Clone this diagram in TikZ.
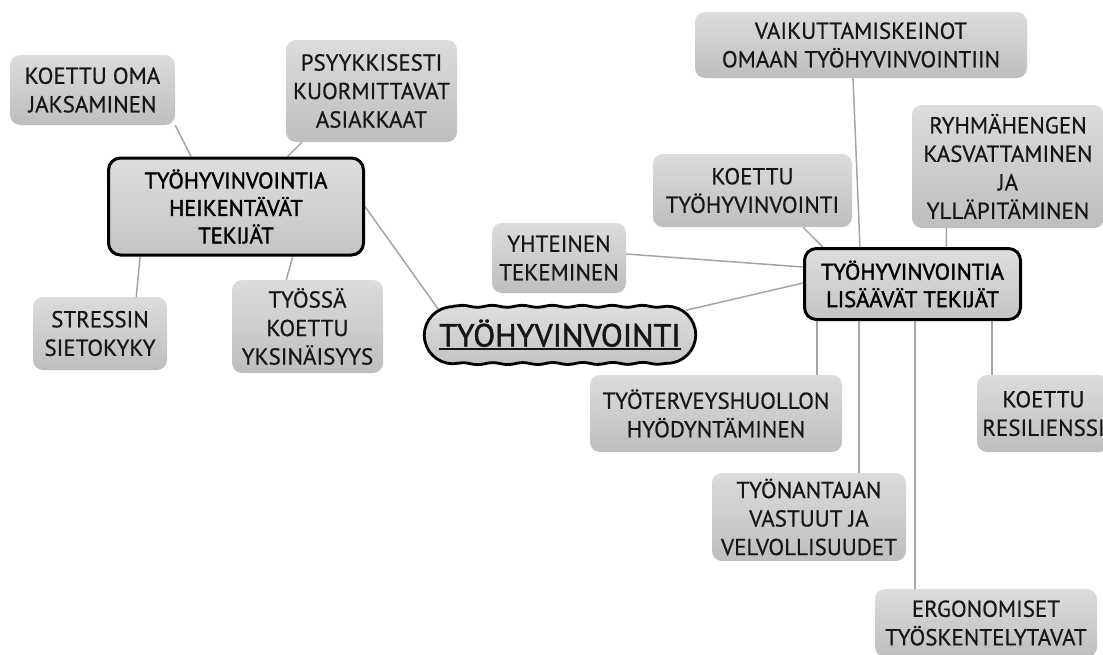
\documentclass[tikz,border=0pt]{standalone}
\usepackage{fontspec}
\setmainfont{PT Sans}[FakeBold=0.5]
\newfontfamily\hubfont{PT Sans}[FakeBold=1.6]
\usetikzlibrary{calc,backgrounds,decorations.pathmorphing}

\definecolor{boxtop}{RGB}{220,220,220}
\definecolor{boxbot}{RGB}{190,190,190}
\definecolor{hubtop}{RGB}{222,222,222}
\definecolor{hubbot}{RGB}{196,196,196}
\definecolor{linkgray}{RGB}{165,165,165}
\definecolor{inkdark}{RGB}{22,22,22}

\begin{document}
\begin{tikzpicture}[x=1pt,y=-1pt,
  leaf/.style={rounded corners=10pt, top color=boxtop, bottom color=boxbot,
    draw=none, align=center, text=inkdark, inner sep=0pt,
    font=\fontsize{23}{28.5}\selectfont},
  hub/.style={rounded corners=12pt, top color=hubtop, bottom color=hubbot,
    draw=black, line width=3pt, align=center, text=black, inner sep=0pt,
    font=\hubfont\fontsize{22.5}{27.5}\selectfont},
  link/.style={draw=linkgray, line width=1.5pt},
  wobble/.style={decoration={snake, amplitude=1pt, segment length=30pt}}]

\useasboundingbox (0,0) rectangle (1103,654);
\clip (0,0) rectangle (1103,654);

% ---- left cluster: factors that weaken well-being
\node[hub, minimum width=255pt, minimum height=97pt] (heik) at (236,206.5)
  {TYÖHYVINVOINTIA\\HEIKENTÄVÄT\\TEKIJÄT};
\node[leaf, minimum width=165pt, minimum height=70pt] (koma) at (92.5,90)
  {KOETTU OMA\\JAKSAMINEN};
\node[leaf, minimum width=171pt, minimum height=102pt] (psy) at (371.5,91)
  {PSYYKKISESTI\\KUORMITTAVAT\\ASIAKKAAT};
\node[leaf, minimum width=134pt, minimum height=73pt] (stress) at (100,333.5)
  {STRESSIN\\SIETOKYKY};
\node[leaf, minimum width=151pt, minimum height=93pt] (yks) at (307.5,326.5)
  {TYÖSSÄ\\KOETTU\\YKSINÄISYYS};

% ---- central topic
\node[top color=hubtop, bottom color=hubbot, rounded corners=28pt,
  minimum width=271pt, minimum height=57pt, inner sep=0pt, text=inkdark,
  font=\hubfont\fontsize{32}{36}\selectfont] (tyo) at (560,335)
  {\setbox0\hbox{TYÖHYVINVOINTI}\rlap{\rule[-4pt]{\wd0}{2pt}}\box0};
\draw[draw=black, line width=2.8pt, line join=round, wobble]
  ($(tyo.north west)+(28.5,0)$)
  decorate { -- ($(tyo.north east)+(-28.5,0)$) }
  arc[start angle=-90, end angle=90, radius=28.5]
  decorate { -- ($(tyo.south west)+(28.5,0)$) }
  arc[start angle=90, end angle=270, radius=28.5];

% ---- right cluster: factors that increase well-being
\node[hub, minimum width=216pt, minimum height=71pt] (lis) at (912.5,284)
  {TYÖHYVINVOINTIA\\LISÄÄVÄT TEKIJÄT};
\node[leaf, minimum width=332pt, minimum height=66pt] (vaik) at (861,45)
  {VAIKUTTAMISKEINOT\\OMAAN TYÖHYVINVOINTIIN};
\node[leaf, minimum width=192pt, minimum height=123pt] (ryh) at (1008,166.5)
  {RYHMÄHENGEN\\KASVATTAMINEN\\JA\\YLLÄPITÄMINEN};
\node[leaf, minimum width=199pt, minimum height=73pt] (kty) at (752.5,190.5)
  {KOETTU\\TYÖHYVINVOINTI};
\node[leaf, minimum width=134pt, minimum height=70pt] (yht) at (559,258)
  {YHTEINEN\\TEKEMINEN};
\node[leaf, minimum width=252pt, minimum height=77pt] (tth) at (716,413.5)
  {TYÖTERVEYSHUOLLON\\HYÖDYNTÄMINEN};
\node[leaf, minimum width=133pt, minimum height=77pt] (res) at (1043.5,413.5)
  {KOETTU\\RESILIENSSI};
\node[leaf, minimum width=194pt, minimum height=88pt] (tyon) at (809,517)
  {TYÖNANTAJAN\\VASTUUT JA\\VELVOLLISUUDET};
\node[leaf, minimum width=222pt, minimum height=68pt] (ergo) at (986,623)
  {ERGONOMISET\\TYÖSKENTELYTAVAT};

% ---- connectors, kept behind the boxes
\begin{scope}[on background layer]
  \draw[link] (koma.south east) -- ($(heik.north west)!.326!(heik.north east)$);
  \draw[link] ($(psy.south west)!.094!(psy.south east)$)
    -- ($(heik.north west)!.70!(heik.north east)$);
  \draw[link] ($(heik.south west)!.128!(heik.south east)$)
    -- ($(stress.north west)!.77!(stress.north east)$);
  \draw[link] ($(heik.south west)!.72!(heik.south east)$)
    -- ($(yks.north west)!.36!(yks.north east)$);
  \draw[link] (heik.east) -- ($(tyo.north west)+(14,3)$);

  \draw[link] ($(yht.east)+(0,-4)$) -- ($(lis.west)+(0,-17)$);
  \draw[link] ($(tyo.north east)+(-10,4)$) -- ($(lis.west)+(0,-1)$);
  \draw[link] ($(kty.south west)!.754!(kty.south east)$)
    -- ($(lis.north west)!.09!(lis.north east)$);
  \draw[link] ($(vaik.south west)!.476!(vaik.south east)$)
    -- ($(lis.north west)!.26!(lis.north east)$);
  \draw[link] ($(ryh.south west)!.18!(ryh.south east)$)
    -- ($(lis.north west)!.655!(lis.north east)$);

  \coordinate (l1) at ($(lis.south west)!.064!(lis.south east)$);
  \coordinate (l2) at ($(lis.south west)!.256!(lis.south east)$);
  \coordinate (l3) at ($(lis.south west)!.511!(lis.south east)$);
  \coordinate (l4) at ($(lis.south west)!.863!(lis.south east)$);
  \draw[link] (l1) -- (l1 |- tth.north);
  \draw[link] (l2) -- (l2 |- tyon.north);
  \draw[link] (l3) -- (l3 |- ergo.north);
  \draw[link] (l4) -- (l4 |- res.north);
\end{scope}
\end{tikzpicture}
\end{document}
